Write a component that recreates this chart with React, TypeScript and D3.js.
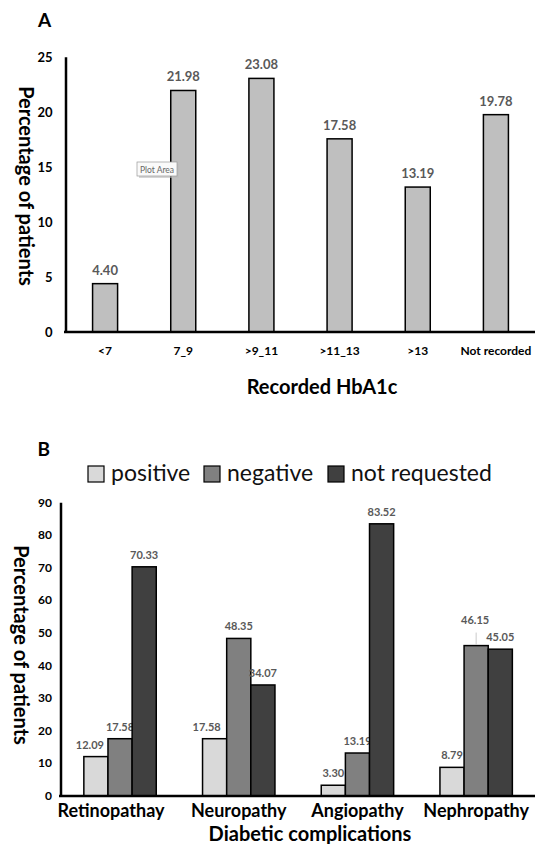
import React from "react";
import * as d3 from "d3";

const hbCategories = ["<7", "7_9", ">9_11", ">11_13", ">13", "Not recorded"];
const hbValues = [4.4, 21.98, 23.08, 17.58, 13.19, 19.78];
const hbTicks = [0, 5, 10, 15, 20, 25];

const compCategories = ["Retinopathay", "Neuropathy", "Angiopathy", "Nephropathy"];
const seriesNames = ["positive", "negative", "not requested"];
const positiveValues = [12.09, 17.58, 3.3, 8.79];
const negativeValues = [17.58, 48.35, 13.19, 46.15];
const notRequestedValues = [70.33, 34.07, 83.52, 45.05];
const compTicks = [0, 10, 20, 30, 40, 50, 60, 70, 80, 90];

const seriesColors = ["#D9D9D9", "#808080", "#404040"];
const FONT = "Lato, 'Open Sans', sans-serif";

export default function App() {
  // Chart A
  const yA = d3.scaleLinear().domain([0, 25]).range([332, 57.3]);
  const xA = d3.scaleBand<string>().domain(hbCategories).range([66, 535]).paddingInner(0.68).paddingOuter(0.34);

  // Chart B
  const yB = d3.scaleLinear().domain([0, 90]).range([796, 502.7]);
  const xB = d3.scaleBand<string>().domain(compCategories).range([60.7, 535.5]).paddingInner(0.39).paddingOuter(0.195);
  const xSub = d3.scaleBand<string>().domain(seriesNames).range([0, xB.bandwidth()]);
  const seriesValues = [positiveValues, negativeValues, notRequestedValues];

  const nudge = (s: number, c: number) => {
    if (s === 0 && c === 0) return { dx: -6, dy: 0 };
    if (s === 0 && c === 1) return { dx: -8, dy: 0 };
    if (s === 1 && c === 3) return { dx: -1, dy: -14 };
    return { dx: 0, dy: 0 };
  };
  const catNudge = (i: number) => (i === 0 ? -9 : 0);

  const legendX = [88, 204, 328];

  return (
    <svg width={535} height={844} style={{ position: "absolute", left: 0, top: 0, background: "#fff" }} fontFamily={FONT}>
      <rect width={535} height={844} fill="#fff" />
      {/* ===== Chart A ===== */}
      <text x={38} y={27} fontSize={19} fontWeight={700} fill="#000">A</text>
      {hbValues.map((v, i) => {
        const x = xA(hbCategories[i])!;
        return (
          <g key={"a" + i}>
            <rect x={x} y={yA(v)} width={xA.bandwidth()} height={yA(0) - yA(v)} fill="#BFBFBF" stroke="#000" strokeWidth={1.5} />
            <text x={x + xA.bandwidth() / 2} y={yA(v) - 9} textAnchor="middle" fontSize={13} fontWeight={700} fill="#595959">
              {v.toFixed(2)}
            </text>
          </g>
        );
      })}
      <line x1={66} x2={66} y1={yA(0)} y2={yA(25)} stroke="#000" strokeWidth={2.5} />
      <line x1={64} x2={535} y1={yA(0)} y2={yA(0)} stroke="#000" strokeWidth={2.5} />
      {hbTicks.map((t) => (
        <text key={"ta" + t} x={52.5} y={yA(t) + 4.5} textAnchor="end" fontSize={13} fontWeight={700} fill="#000">{t}</text>
      ))}
      {hbCategories.map((c) => (
        <text key={"ca" + c} x={xA(c)! + xA.bandwidth() / 2} y={355} textAnchor="middle" fontSize={12} fontWeight={700} fill="#000">{c}</text>
      ))}
      <text x={322} y={394} textAnchor="middle" fontSize={20} fontWeight={700} fill="#000">Recorded HbA1c</text>
      <text transform="translate(27,186) rotate(90)" textAnchor="middle" dominantBaseline="central" fontSize={20} fontWeight={700} fill="#000">Percentage of patients</text>
      {/* tooltip */}
      <rect x={139} y={164} width={40} height={14} fill="#bbb" opacity={0.6} />
      <rect x={137} y={162} width={40} height={14} fill="#fafafa" stroke="#999" strokeWidth={0.7} />
      <text x={157} y={172.5} textAnchor="middle" fontSize={8.5} fill="#666">Plot Area</text>

      {/* ===== Chart B ===== */}
      <text x={37.5} y={456} fontSize={19} fontWeight={700} fill="#000">B</text>
      {seriesNames.map((s, i) => (
        <g key={"lg" + s}>
          <rect x={legendX[i]} y={466} width={16} height={16} fill={seriesColors[i]} stroke="#000" strokeWidth={1.2} />
          <text x={legendX[i] + 23} y={481} fontSize={23} fill="#111">{s}</text>
        </g>
      ))}
      {compCategories.map((c, ci) => (
        <g key={"gb" + c}>
          {seriesNames.map((s, si) => {
            const v = seriesValues[si][ci];
            const x = xB(c)! + xSub(s)!;
            const w = xSub.bandwidth();
            const n = nudge(si, ci);
            return (
              <g key={s}>
                <rect x={x} y={yB(v)} width={w} height={yB(0) - yB(v)} fill={seriesColors[si]} stroke="#000" strokeWidth={1.5} />
                {n.dy !== 0 && (
                  <line x1={x + w / 2} x2={x + w / 2} y1={yB(v) - 1} y2={yB(v) - 13} stroke="#bbb" strokeWidth={0.8} />
                )}
                <text x={x + w / 2 + n.dx} y={yB(v) - 8 + n.dy} textAnchor="middle" fontSize={11} fontWeight={700} fill="#595959">
                  {v.toFixed(2)}
                </text>
              </g>
            );
          })}
        </g>
      ))}
      <line x1={61} x2={61} y1={yB(0)} y2={yB(90)} stroke="#000" strokeWidth={2.5} />
      <line x1={59} x2={535} y1={yB(0)} y2={yB(0)} stroke="#000" strokeWidth={2.5} />
      {compTicks.map((t) => (
        <text key={"tb" + t} x={52} y={yB(t) + 4} textAnchor="end" fontSize={12} fontWeight={700} fill="#000">{t}</text>
      ))}
      {compCategories.map((c, i) => (
        <text key={"cb" + c} x={xB(c)! + xB.bandwidth() / 2 + catNudge(i)} y={817} textAnchor="middle" fontSize={18} fontWeight={700} fill="#000">{c}</text>
      ))}
      <text x={310} y={841} textAnchor="middle" fontSize={20} fontWeight={700} fill="#000">Diabetic complications</text>
      <text transform="translate(22,645) rotate(90)" textAnchor="middle" dominantBaseline="central" fontSize={20} fontWeight={700} fill="#000">Percentage of patients</text>
    </svg>
  );
}
